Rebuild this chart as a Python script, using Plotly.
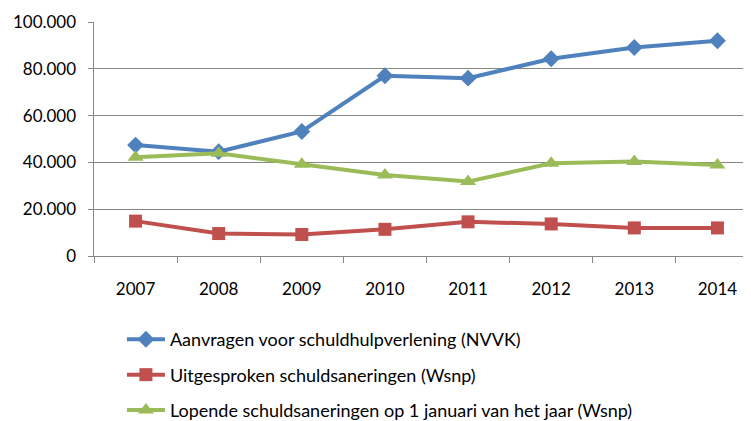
import plotly.graph_objects as go

years = ["2007", "2008", "2009", "2010", "2011", "2012", "2013", "2014"]
aanvragen = [47400, 44600, 53200, 77000, 76000, 84300, 89100, 92000]
uitgesproken = [14900, 9600, 9200, 11400, 14600, 13700, 12000, 12000]
lopende = [42200, 43900, 39200, 34600, 31800, 39600, 40400, 38900]

names = [
    "Aanvragen voor schuldhulpverlening (NVVK)",
    "Uitgesproken schuldsaneringen (Wsnp)",
    "Lopende schuldsaneringen op 1 januari van het jaar (Wsnp)",
]
colors = ["#4F81BD", "#C0504D", "#9BBB59"]
symbols = ["diamond", "square", "triangle-up"]
sizes = [13, 13, 14]
series = [aanvragen, uitgesproken, lopende]

fig = go.Figure()
for i, (n, vals) in enumerate(zip(names, series)):
    fig.add_trace(go.Scatter(
        x=years, y=vals, name=n, mode="lines+markers",
        line=dict(color=colors[i], width=4),
        marker=dict(symbol=symbols[i], size=sizes[i], color=colors[i]),
        legendgroup=f"g{i}",
    ))

font = "Lato, Carlito, Calibri, sans-serif"
# page body has an 8px margin; figure margins compensate for it
fig.update_layout(
    width=751, height=421,
    margin=dict(l=86, r=0, t=14, b=173, autoexpand=False),
    paper_bgcolor="white", plot_bgcolor="white",
    separators=",.",
    font=dict(family=font, size=18, color="#000000"),
    showlegend=True,
    legend=dict(
        x=0.042, xanchor="left",
        y=-0.278, yanchor="top",
        traceorder="grouped", tracegroupgap=9,
        font=dict(family=font, size=18, color="#000000"),
        itemwidth=38,
        bgcolor="rgba(0,0,0,0)",
    ),
    xaxis=dict(
        type="category", range=[-0.5, 7.5], automargin=False,
        showgrid=False, showline=True, linecolor="#868686", linewidth=1,
        ticks="outside", tickson="boundaries", ticklen=6, tickcolor="#868686",
        tickfont=dict(family=font, size=17), ticklabelstandoff=18,
    ),
    yaxis=dict(
        range=[0, 100000], dtick=20000, tickformat=",d", automargin=False,
        showgrid=True, gridcolor="#868686", gridwidth=1,
        showline=True, linecolor="#868686", linewidth=1,
        ticks="outside", ticklen=5, tickcolor="#868686",
        zeroline=False, ticksuffix="\u2002",
        tickfont=dict(family=font, size=17),
    ),
)

fig.write_html("out.html")
